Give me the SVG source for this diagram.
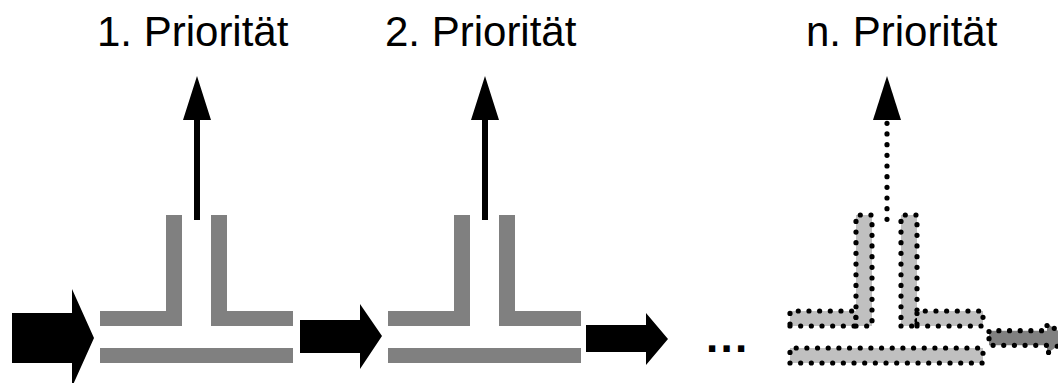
<svg xmlns="http://www.w3.org/2000/svg" width="1058" height="383" viewBox="0 0 1058 383">
<style>
text{font-family:"Liberation Sans",Arial,sans-serif;fill:#000}
.t{font-size:42px}
.g{fill:#808080}
.d{fill:#c0c0c0;stroke:#000;stroke-width:5.2;stroke-linecap:round;stroke-dasharray:0 10.67}
.a{fill:#000}
</style>
<defs>
<g id="tee">
<path d="M0 115H66V100H0Z"/>
<path d="M66 115H82V4H66Z"/>
<path d="M111 115H127V4H111Z"/>
<path d="M127 115H193V100H127Z"/>
<path d="M0 152H193V137H0Z"/>
</g>
</defs>
<rect width="1058" height="383" fill="#fff"/>
<g id="label-1"><text class="t" x="97" y="46">1. Priorität</text></g>
<g id="label-2"><text class="t" x="385" y="46">2. Priorität</text></g>
<g id="label-n"><text class="t" x="806" y="46">n. Priorität</text></g>
<g id="node-1" class="g"><use href="#tee" x="100" y="211"/></g>
<g id="node-2" class="g"><use href="#tee" x="388" y="211"/></g>
<g id="node-n" class="d"><use href="#tee" x="790" y="211"/></g>
<g id="ellipsis"><text x="705.9" y="352" font-size="44" font-weight="bold" letter-spacing="2.3">...</text></g>
<g id="connectors">
<path class="a" d="M12 313H72V289L94 338L72 387V363H12Z"/>
<path class="a" d="M300 320H360V304L382 336L360 369V353H300Z"/>
<path class="a" d="M586 325H646V313L668 339L646 365V352H586Z"/>
<path class="a" d="M183 120L197 76L211 120H200V220H194V120Z"/>
<path class="a" d="M471 120L485 76L499 120H488V220H482V120Z"/>
<path class="a" d="M873 120L887 76L901 120Z"/>
<path class="d" d="M887 123.3V220" style="fill:none"/>
<path class="d" d="M989 338.7V345.3H1047V353.5L1069 338L1047 323.5V330.7H989Z" style="fill:#808080"/>
</g>
</svg>
